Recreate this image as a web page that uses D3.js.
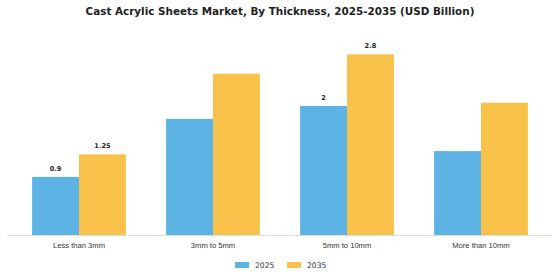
<!DOCTYPE html>
<html lang="en">
<head>
  <meta charset="UTF-8">
  <title>Cast Acrylic Sheets Market</title>
  <script src="https://d3js.org/d3.v7.min.js"></script>
  <style>
    html, body { margin:0; background:#fff; }
    svg { display:block; font-family:"DejaVu Sans", sans-serif; }
    .axis path, .axis line { stroke:#ddd; }
    .axis text { font-size:7.6px; fill:#333; }
    .val { font-size:6.6px; font-weight:bold; fill:#222; text-anchor:middle; }
  </style>
</head>
<body>
  <svg id="chart" width="560" height="280"></svg>
  <script>
    const categories = ["Less than 3mm", "3mm to 5mm", "5mm to 10mm", "More than 10mm"];
    const years = ["2025", "2035"];
    const values2025 = [0.9, 1.8, 2.0, 1.3];
    const values2035 = [1.25, 2.5, 2.8, 2.05];
    // only these get a number above the bar
    const shown2025 = [true, false, true, false];
    const shown2035 = [true, false, true, false];
    const colors = ["#5cb3e4", "#f8c24a"];

    const svg = d3.select("#chart");
    const W = 560, H = 280;
    const base = 235, left = 12, right = 548;

    svg.append("text")
      .attr("x", W/2).attr("y", 15)
      .attr("text-anchor", "middle")
      .style("font-size", "10.4px").style("font-weight", "bold").style("fill", "#222")
      .text("Cast Acrylic Sheets Market, By Thickness, 2025-2035 (USD Billion)");

    const x = d3.scaleBand().domain(categories).range([left, right])
      .paddingInner(0.3).paddingOuter(0.15);
    const xs = d3.scaleBand().domain(years).range([0, x.bandwidth()]);
    const y = d3.scaleLinear().domain([0, 2.8]).range([base, base - 180.7]);

    const rows = categories.map((c, i) => ({
      cat: c,
      bars: [
        {year:"2025", v:values2025[i], show:shown2025[i]},
        {year:"2035", v:values2035[i], show:shown2035[i]}
      ]
    }));

    const grp = svg.selectAll(".grp").data(rows).join("g")
      .attr("class", "grp")
      .attr("transform", d => `translate(${x(d.cat)},0)`);

    grp.selectAll("rect").data(d => d.bars).join("rect")
      .attr("x", d => xs(d.year))
      .attr("y", d => y(d.v))
      .attr("width", xs.bandwidth())
      .attr("height", d => base - y(d.v))
      .attr("fill", (d, i) => colors[i]);

    grp.selectAll(".val").data(d => d.bars.filter(b => b.show)).join("text")
      .attr("class", "val")
      .attr("x", d => xs(d.year) + xs.bandwidth()/2)
      .attr("y", d => y(d.v) - 6)
      .text(d => d.v);

    const axis = svg.append("g").attr("class", "axis")
      .attr("transform", `translate(0,${base})`)
      .call(d3.axisBottom(x).tickSize(3).tickSizeOuter(0));
    axis.select(".domain").attr("d", `M7,0.5H552`);
    axis.selectAll("text").attr("dy", "0.9em");

    const leg = svg.append("g").attr("transform", "translate(235,262)");
    years.forEach((yr, i) => {
      const g = leg.append("g").attr("transform", `translate(${i*52},0)`);
      g.append("rect").attr("width", 14).attr("height", 6).attr("fill", colors[i]);
      g.append("text").attr("x", 20).attr("y", 6)
        .style("font-size", "7.6px").style("fill", "#333").text(yr);
    });
  </script>
</body>
</html>
